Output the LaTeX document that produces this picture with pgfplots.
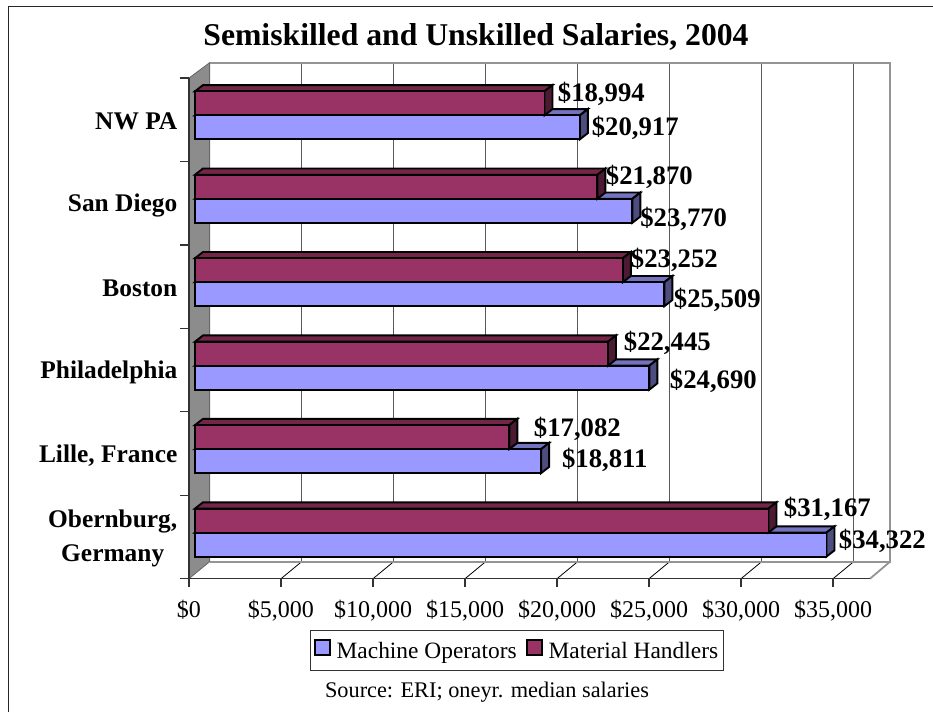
\documentclass[border=0pt]{standalone}
\usepackage{fontspec}
\setmainfont{Liberation Serif}
\usepackage{pgfplots}
\usepackage{pgfplotstable}
\pgfplotsset{compat=1.18}

\definecolor{opsblue}{HTML}{9999FF}
\definecolor{opstop}{HTML}{7373BF}
\definecolor{opsside}{HTML}{4D4D80}
\definecolor{hanred}{HTML}{993366}
\definecolor{hantop}{HTML}{732648}
\definecolor{hanside}{HTML}{4D1A33}

% i, value, label shift right and up (in px)
\pgfplotstableread{
cat ops opsx opsy han hanx hany
0 34322 11.5 -8.5 31167 14.5 23.5
1 18811 20.0 -11.1 17082 23.7 19.9
2 24690 19.7 -15.7 22445 15.0 22.3
3 25509 8.6 -17.3 23252 7.2 22.7
4 23770 7.0 -20.4 21870 7.6 22.1
5 20917 11.0 -12.5 18994 12.5 21.5
}\salaries

\pgfplotsset{
  barplane/.style={xshift=6pt,yshift=4.4pt,forget plot},
  barline/.style={draw=black,line width=1.9pt,line join=miter},
  backline/.style={forget plot,draw=black!42,line width=1.8pt},
  gridline/.style={forget plot,draw=black!65,line width=1.2pt},
}

% low y, high y, value, top colour, side colour
\newcommand{\barcaps}[5]{%
  \edef\capx{\the\numexpr#3+435\relax}%
  \pgfmathsetmacro\capa{#1+0.075}%
  \pgfmathsetmacro\capb{#2+0.075}%
  \addplot[barplane,barline,fill=#4] coordinates {(0,#2) (#3,#2) (\capx,\capb) (435,\capb)} --cycle;
  \addplot[barplane,barline,fill=#5] coordinates {(#3,#1) (#3,#2) (\capx,\capb) (\capx,\capa)} --cycle;
}

\begin{document}
\begin{tikzpicture}[x=1pt,y=1pt]
\useasboundingbox (-189,-133.3) rectangle (744,578.7);
\draw[black!85,line width=1.4pt] (-180.5,-133.3) -- (-180.5,572.2) -- (744,572.2);
\begin{axis}[
  scale only axis,
  width=681pt,
  height=500.7pt,
  xmin=0, xmax=37011,
  ymin=-0.5, ymax=5.5,
  clip=false,
  axis on top,
  axis x line*=bottom,
  axis y line*=left,
  axis line style={-,draw=black!80,line width=1.3pt},
  tick style={draw=black!80,line width=1.2pt},
  tick align=outside,
  major tick length=8.5pt,
  scaled x ticks=false,
  xtick={0,5000,...,35000},
  xticklabels={\$0,{\$5,000},{\$10,000},{\$15,000},{\$20,000},{\$25,000},{\$30,000},{\$35,000}},
  xticklabel style={font=\fontsize{24}{27}\selectfont,yshift=-9pt},
  ytick={-0.5,0.5,...,5.5},
  yticklabels={},
  extra y ticks={0,1,2,3,4,5},
  extra y tick labels={{\begin{tabular}{@{}c@{}}Obernburg,\\[5pt]Germany\end{tabular}},{Lille, France},Philadelphia,Boston,San Diego,NW PA},
  extra y tick style={
    tick style={draw=none},
    yticklabel style={font=\fontsize{25.4}{29}\bfseries\selectfont,anchor=east,inner sep=0pt,xshift=-3pt,yshift=-2pt},
  },
  title={Semiskilled and Unskilled Salaries, 2004},
  title style={font=\fontsize{31.7}{36}\bfseries\selectfont,at={(0.4214,1.0699)},anchor=center},
  legend style={
    at={(0.4816,-0.1434)},anchor=center,
    draw=black!80,line width=1pt,
    inner ysep=8pt,
    font=\fontsize{23.4}{26}\selectfont,
    legend columns=2,
    /tikz/column 1/.style={column sep=4pt},
    /tikz/column 2/.style={column sep=7pt},
    /tikz/column 3/.style={column sep=4pt},
  },
  legend cell align=left,
  legend image code/.code={\draw[#1] (0pt,-7.5pt) rectangle (15pt,7.5pt);},
  /pgf/number format/assume math mode=true,
  /pgf/number format/fixed,
  /pgf/number format/precision=0,
  /pgf/number format/1000 sep={,},
]
% left wall, back wall and floor
\addplot[forget plot,fill=black!45,draw=black!60,line width=0.8pt] coordinates {(0,-0.5) (1120,-0.2963) (1120,5.683) (0,5.5)} --cycle;
\addplot[gridline] coordinates {(6120,-0.2963) (6120,5.683)};
\addplot[gridline] coordinates {(11120,-0.2963) (11120,5.683)};
\addplot[gridline] coordinates {(16120,-0.2963) (16120,5.683)};
\addplot[gridline] coordinates {(21120,-0.2963) (21120,5.683)};
\addplot[gridline] coordinates {(26120,-0.2963) (26120,5.683)};
\addplot[gridline] coordinates {(31120,-0.2963) (31120,5.683)};
\addplot[gridline] coordinates {(36120,-0.2963) (36120,5.683)};
\addplot[forget plot,draw=black,line width=0.8pt] coordinates {(5000,-0.5) (6120,-0.2963)};
\addplot[forget plot,draw=black,line width=0.8pt] coordinates {(10000,-0.5) (11120,-0.2963)};
\addplot[forget plot,draw=black,line width=0.8pt] coordinates {(15000,-0.5) (16120,-0.2963)};
\addplot[forget plot,draw=black,line width=0.8pt] coordinates {(20000,-0.5) (21120,-0.2963)};
\addplot[forget plot,draw=black,line width=0.8pt] coordinates {(25000,-0.5) (26120,-0.2963)};
\addplot[forget plot,draw=black,line width=0.8pt] coordinates {(30000,-0.5) (31120,-0.2963)};
\addplot[forget plot,draw=black,line width=0.8pt] coordinates {(35000,-0.5) (36120,-0.2963)};
\addplot[backline] coordinates {(1120,5.683) (38098,5.683) (38098,-0.2963) (1120,-0.2963)};
\addplot[backline] coordinates {(38098,-0.2963) (37011,-0.5)};

% Obernburg to NW PA, operators sit below the category line
\barcaps{-0.2876}{0}{34322}{opstop}{opsside}
\barcaps{0.7124}{1}{18811}{opstop}{opsside}
\barcaps{1.7124}{2}{24690}{opstop}{opsside}
\barcaps{2.7124}{3}{25509}{opstop}{opsside}
\barcaps{3.7124}{4}{23770}{opstop}{opsside}
\barcaps{4.7124}{5}{20917}{opstop}{opsside}
\addplot[
  xbar,bar width=24pt,bar shift=-12pt,
  xshift=6pt,yshift=4.4pt,
  barline,fill=opsblue,
  point meta=x,
  visualization depends on={\thisrow{opsx} \as \lx},
  visualization depends on={\thisrow{opsy} \as \ly},
  nodes near coords={\$\pgfmathprintnumber{\pgfplotspointmeta}},
  nodes near coords style={font=\fontsize{26.7}{30}\bfseries\selectfont,anchor=west,inner sep=0pt,xshift=\lx pt,yshift=\ly pt,text=black},
] table[x=ops,y=cat] {\salaries};
\addlegendentry{Machine Operators}

\barcaps{0}{0.2876}{31167}{hantop}{hanside}
\barcaps{1}{1.2876}{17082}{hantop}{hanside}
\barcaps{2}{2.2876}{22445}{hantop}{hanside}
\barcaps{3}{3.2876}{23252}{hantop}{hanside}
\barcaps{4}{4.2876}{21870}{hantop}{hanside}
\barcaps{5}{5.2876}{18994}{hantop}{hanside}
\addplot[
  xbar,bar width=24pt,bar shift=12pt,
  xshift=6pt,yshift=4.4pt,
  barline,fill=hanred,
  point meta=x,
  visualization depends on={\thisrow{hanx} \as \lx},
  visualization depends on={\thisrow{hany} \as \ly},
  nodes near coords={\$\pgfmathprintnumber{\pgfplotspointmeta}},
  nodes near coords style={font=\fontsize{26.7}{30}\bfseries\selectfont,anchor=west,inner sep=0pt,xshift=\lx pt,yshift=\ly pt,text=black},
] table[x=han,y=cat] {\salaries};
\addlegendentry{Material Handlers\hspace{10pt}}
\end{axis}
\node[font=\fontsize{22.3}{26}\selectfont] at (298,-113) {Source: ERI; oneyr. median salaries};
\end{tikzpicture}
\end{document}
